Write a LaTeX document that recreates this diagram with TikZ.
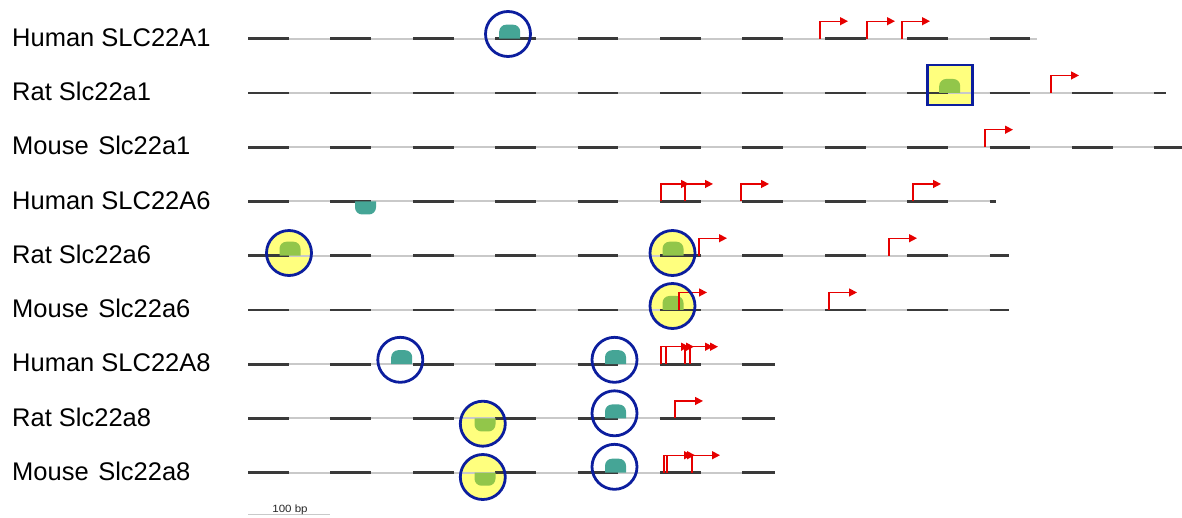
\documentclass[tikz,border=0pt]{standalone}
\usepackage{fontspec}
\setmainfont{Liberation Sans}
\usetikzlibrary{arrows.meta}

\definecolor{trackgray}{HTML}{C9C9C9}
\definecolor{dashdark}{HTML}{3A3A3A}
\definecolor{tssred}{HTML}{E60000}
\definecolor{ringblue}{HTML}{0C1E9E}
\definecolor{hiyellow}{HTML}{FFFF7E}
\definecolor{domegreen}{HTML}{92C64A}
\definecolor{dometeal}{HTML}{45A596}

% dome-shaped binding site: #1 = x, #2 = y on the track, #3 = colour
\newcommand\siteup[3]{%
  \fill[#3] (#1-10.5,#2) [rounded corners=7pt] -- (#1-10.5,#2-14) -- (#1+10.5,#2-14) [sharp corners] -- (#1+10.5,#2) -- cycle;}
\newcommand\sitedown[3]{%
  \fill[#3] (#1-10.5,#2) [rounded corners=7pt] -- (#1-10.5,#2+13) -- (#1+10.5,#2+13) [sharp corners] -- (#1+10.5,#2) -- cycle;}

\tikzset{
  lbl/.style={anchor=base west, inner sep=0pt,
              font=\fontsize{25.5}{28}\selectfont, text=black},
  track/.style={draw=trackgray, line width=2pt},
  exon/.style={draw=dashdark, line width=2.6pt, dash pattern=on 40.8pt off 41.6pt},
  tss/.style={draw=tssred, line width=1.4pt, -{Triangle[length=8pt,width=8pt]}},
  ring/.style={draw=ringblue, line width=2.8pt},
  hilite/.style={fill=hiyellow},
}

\begin{document}
\begin{tikzpicture}[x=1pt,y=-1pt]
\useasboundingbox (0,0) rectangle (1182,517);

% gene names
\node[lbl] (lab1) at (12,46.4)  {Human SLC22A1};
\node[lbl] (lab2) at (12,100.6) {Rat Slc22a1};
\node[lbl] (lab3) at (12,154.9) {Mouse\hspace{2.5pt} Slc22a1};
\node[lbl] (lab4) at (12,209.1) {Human SLC22A6};
\node[lbl] (lab5) at (12,263.4) {Rat Slc22a6};
\node[lbl] (lab6) at (12,317.6) {Mouse\hspace{2.5pt} Slc22a6};
\node[lbl] (lab7) at (12,371.9) {Human SLC22A8};
\node[lbl] (lab8) at (12,426.1) {Rat Slc22a8};
\node[lbl] (lab9) at (12,480.4) {Mouse\hspace{2.5pt} Slc22a8};

% yellow highlights (behind the tracks)
\fill[hilite] (927.3,65) rectangle (972.7,105);
\fill[hilite] (289,253) circle (22.5);
\fill[hilite] (672.5,253) circle (22.5);
\fill[hilite] (672.5,306) circle (22.5);
\fill[hilite] (482.8,423.7) circle (22.5);
\fill[hilite] (482.8,477) circle (22.5);

% sequence tracks with 100 bp tick pattern
\foreach \y/\e [count=\i] in {38.7/1037, 92.95/1166, 147.2/1182, 201.45/996,
    255.7/1009, 309.95/1009, 364.2/775, 418.45/775, 472.7/775} {
  \coordinate (r\i s) at (248,\y);
  \coordinate (r\i e) at (\e,\y);
  \draw[track] (r\i s) -- (r\i e);
  \draw[exon] (r\i s) -- (r\i e);
}

% binding sites
\siteup{509.7}{38.7}{dometeal}
\siteup{949.7}{92.95}{domegreen}
\sitedown{365.5}{201.45}{dometeal}
\siteup{290}{255.7}{domegreen}
\siteup{673}{255.7}{domegreen}
\siteup{673}{309.95}{domegreen}
\siteup{401.7}{364.2}{dometeal}
\siteup{615.5}{364.2}{dometeal}
\sitedown{485}{418.45}{domegreen}
\siteup{615.5}{418.45}{dometeal}
\sitedown{485}{472.7}{domegreen}
\siteup{615.5}{472.7}{dometeal}

% transcription start sites
\foreach \y/\xs in {38.7/{820,867,902}, 92.95/{1051}, 147.2/{985},
    201.45/{661,685,741,913}, 255.7/{699,889}, 309.95/{679,829},
    364.2/{661,666,685,690}, 418.45/{675}, 472.7/{664,667,692}} {
  \foreach \x in \xs {
    \draw[tss] (\x,\y) -- ++(0,-17.5) -- ++(28,0);
  }
}

% rings around conserved sites
\draw[ring] (927.3,65) rectangle (972.7,105);
\draw[ring] (508,34) circle (22.5);
\draw[ring] (289,253) circle (22.5);
\draw[ring] (672.5,253) circle (22.5);
\draw[ring] (672.5,306) circle (22.5);
\draw[ring] (400.3,359.8) circle (22.5);
\draw[ring] (614.5,359.8) circle (22.5);
\draw[ring] (482.8,423.7) circle (22.5);
\draw[ring] (614.5,413.3) circle (22.5);
\draw[ring] (482.8,477) circle (22.5);
\draw[ring] (614.5,466.8) circle (22.5);

% scale bar
\coordinate (sb1) at (248,514.3);
\coordinate (sb2) at (330,514.3);
\draw[draw=trackgray, line width=1pt] (sb1) -- (sb2);
\node[anchor=base, inner sep=0pt, xscale=1.1, font=\fontsize{10.5}{12}\selectfont,
      text=black!85] (sbl) at (290,512.5) {100 bp};
\end{tikzpicture}
\end{document}
